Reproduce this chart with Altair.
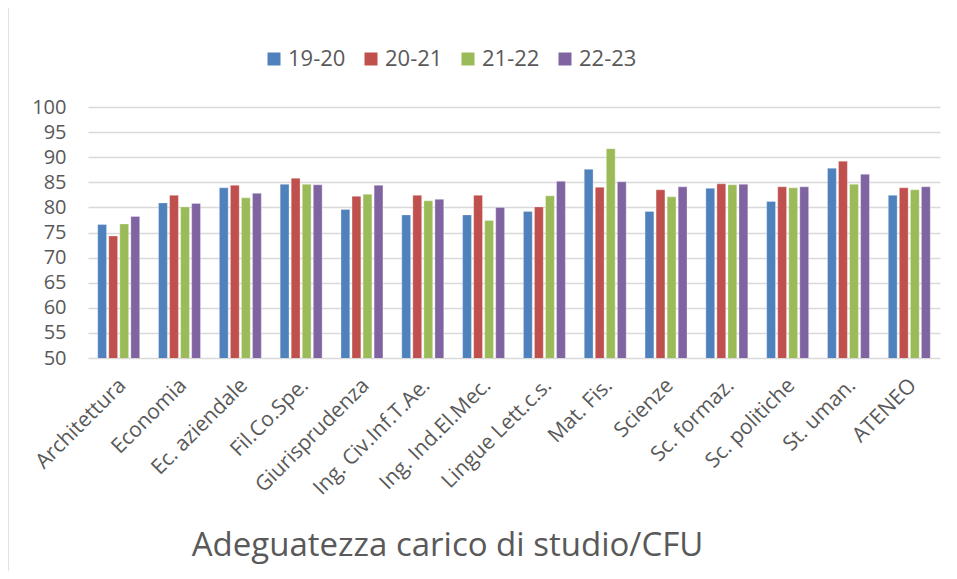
import altair as alt
import pandas as pd

categories = ["Architettura", "Economia", "Ec. aziendale", "Fil.Co.Spe.", "Giurisprudenza",
              "Ing. Civ.Inf.T.Ae.", "Ing. Ind.El.Mec.", "Lingue Lett.c.s.", "Mat. Fis.",
              "Scienze", "Sc. formaz.", "Sc. politiche", "St. uman.", "ATENEO"]
series = ["19-20", "20-21", "21-22", "22-23"]
v_19_20 = [76.6, 80.9, 83.9, 84.6, 79.6, 78.5, 78.5, 79.2, 87.6, 79.2, 83.8, 81.2, 87.8, 82.4]
v_20_21 = [74.3, 82.4, 84.4, 85.8, 82.2, 82.4, 82.4, 80.1, 84.0, 83.5, 84.7, 84.1, 89.2, 83.9]
v_21_22 = [76.7, 80.1, 81.9, 84.6, 82.6, 81.3, 77.4, 82.3, 91.7, 82.1, 84.5, 83.9, 84.6, 83.5]
v_22_23 = [78.2, 80.8, 82.8, 84.5, 84.4, 81.6, 80.0, 85.2, 85.1, 84.1, 84.6, 84.1, 86.6, 84.1]
colors = ["#4F81BD", "#C0504D", "#9BBB59", "#8064A2"]
title_text = "Adeguatezza carico di studio/CFU"

rows = []
for s, vals in zip(series, [v_19_20, v_20_21, v_21_22, v_22_23]):
    for c, v in zip(categories, vals):
        rows.append({"cat": c, "serie": s, "val": v})
df = pd.DataFrame(rows)

FONT = "Open Sans"
GREY = "#595959"

border = alt.Chart(pd.DataFrame({"a": [0]})).mark_rect(
    fill=None, stroke="#D9D9D9", strokeWidth=1.5
).encode(x=alt.value(-80), x2=alt.value(900), y=alt.value(-100), y2=alt.value(600))

bars = alt.Chart(df).mark_bar(clip=True, stroke="white", strokeOpacity=0.5, strokeWidth=0.6).encode(
    x=alt.X("cat:N", sort=categories,
            scale=alt.Scale(paddingInner=0.31, paddingOuter=0.16),
            axis=alt.Axis(title=title_text, labelAngle=-45, labelAlign="right", labelBaseline="middle",
                          labelFontSize=21, labelColor=GREY, labelFont=FONT, ticks=False,
                          domain=False, labelPadding=24, labelOffset=4,
                          titleFontSize=33, titleFont=FONT, titleColor=GREY, titleFontWeight="normal",
                          titleX=359, titleY=187, titleAlign="center", titleBaseline="middle")),
    xOffset=alt.XOffset("serie:N", sort=series, scale=alt.Scale(paddingInner=0.2)),
    y=alt.Y("val:Q", scale=alt.Scale(domain=[50, 100], nice=False, zero=False),
            axis=alt.Axis(title=None, values=list(range(50, 101, 5)), labelFontSize=20,
                          labelColor=GREY, labelFont=FONT, ticks=False, domain=False,
                          labelPadding=22, gridColor="#D9D9D9", gridWidth=1.5)),
    color=alt.Color("serie:N", sort=series, scale=alt.Scale(domain=series, range=colors),
                    legend=alt.Legend(title=None, orient="none", legendX=175, legendY=-59,
                                      direction="horizontal",
                                      symbolType="square", symbolSize=169, labelFontSize=22,
                                      labelColor=GREY, labelFont=FONT,
                                      symbolStrokeWidth=0, columnPadding=14, labelOffset=3)),
)

chart = alt.layer(border, bars).properties(
    width=852, height=251,
    padding={"left": 80, "top": 99, "right": 9, "bottom": 213},
    autosize=alt.AutoSizeParams(type="none"),
).configure_view(stroke=None)

chart.save("out.html", embed_options={"renderer": "svg", "actions": False})
